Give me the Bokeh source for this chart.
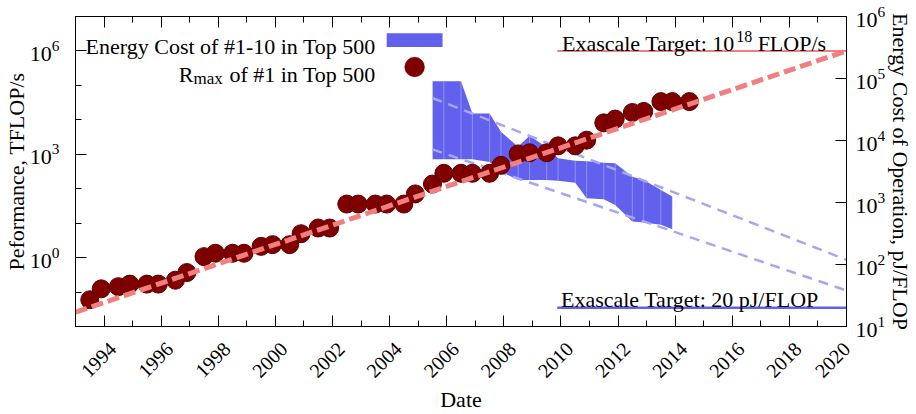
import math
from bokeh.plotting import figure
from bokeh.models import (Range1d, LogScale, LogAxis, LinearAxis, FixedTicker,
                          SingleIntervalTicker, LogTickFormatter, CustomJSTickFormatter,
                          Label, BoxAnnotation)
from bokeh.embed import file_html
from bokeh.resources import INLINE

# ---------------- data ----------------
top500_dates = [1993.5, 1993.9, 1994.5, 1994.9, 1995.5, 1995.9, 1996.5, 1996.9,
                1997.5, 1997.9, 1998.5, 1998.9, 1999.5, 1999.9, 2000.5, 2000.9,
                2001.5, 2001.9, 2002.5, 2002.9, 2003.5, 2003.9, 2004.5, 2004.9,
                2005.5, 2005.9, 2006.5, 2006.9, 2007.5, 2007.9, 2008.5, 2008.9,
                2009.5, 2009.9, 2010.5, 2010.9, 2011.5, 2011.9, 2012.5, 2012.9,
                2013.5, 2013.9, 2014.5]
top500_rmax_tflops = [0.0597, 0.124, 0.1434, 0.170, 0.170, 0.170, 0.2204, 0.3682,
                      1.068, 1.338, 1.338, 1.338, 2.121, 2.379, 2.379, 4.938,
                      7.226, 7.226, 35.86, 35.86, 35.86, 35.86, 35.86, 70.72,
                      136.8, 280.6, 280.6, 280.6, 280.6, 478.2, 1026, 1105,
                      1105, 1759, 1759, 2566, 8162, 10510, 16325, 17590,
                      33863, 33863, 33863]

band_dates = [2005.5, 2005.9, 2006.5, 2006.9, 2007.5, 2007.9, 2008.5, 2008.9, 2009.5,
              2009.9, 2010.5, 2010.9, 2011.5, 2011.9, 2012.5, 2012.9, 2013.5, 2013.9]
band_energy_high = [90200, 90200, 90200, 27300, 27300, 13800, 7900, 11900, 7800,
                    5150, 4720, 4610, 4380, 4290, 2610, 2300, 1590, 1245]
band_energy_low = [4970, 4970, 4970, 4970, 4500, 3140, 2310, 2310, 2310,
                   2250, 2090, 1170, 1130, 915, 493, 475, 437, 372]

perf_trend_dates = [1993.0, 2020.0]
perf_trend_tflops = [0.026, 1.0e6]
energy_trend_dates = [2005.5, 2020.0]
energy_trend_upper = [48500, 119]
energy_trend_lower = [7200, 38]

exascale_perf_tflops = 1.0e6
exascale_energy_pj = 20

year_ticks = [1994, 1996, 1998, 2000, 2002, 2004, 2006, 2008, 2010, 2012, 2014, 2016, 2018, 2020]
perf_major_ticks = [1e0, 1e3, 1e6]
perf_minor_ticks = [1e-2, 1e-1, 1e1, 1e2, 1e4, 1e5, 1e7]
energy_ticks = [1e1, 1e2, 1e3, 1e4, 1e5, 1e6]

# ---------------- layout helpers (page pixels -> data, for annotations) ----------------
FONT = "Liberation Serif"
X_START, X_END = 1993.0, 2020.0
PERF_MIN, PERF_MAX = 1e-2, 1e7
FRAME_L, FRAME_R, FRAME_T, FRAME_B = 74.0, 847.0, 16.0, 327.0
LABEL_SHIFT = 0.30   # years: rotated year labels sit a little right of their ticks


def px_x(px):
    return X_START + (px - FRAME_L) * (X_END - X_START) / (FRAME_R - FRAME_L)


def px_y(py):
    lo, hi = math.log10(PERF_MIN), math.log10(PERF_MAX)
    return 10 ** (lo + (FRAME_B - py) * (hi - lo) / (FRAME_B - FRAME_T))


p = figure(width=916, height=414,
           x_range=Range1d(X_START, X_END), y_range=Range1d(PERF_MIN, PERF_MAX),
           x_axis_type=None, y_axis_type="log",
           output_backend="svg", toolbar_location=None,
           min_border_left=74, min_border_right=69, min_border_top=16, min_border_bottom=87)
p.grid.grid_line_color = None
p.outline_line_color = "black"
p.outline_line_alpha = 1.0
p.outline_line_width = 1
p.background_fill_color = "white"
p.border_fill_color = "white"

p.extra_y_ranges = {"energy": Range1d(1e1, 1e6)}
p.extra_y_scales = {"energy": LogScale()}
p.extra_x_ranges = {"xlab": Range1d(X_START - LABEL_SHIFT, X_END - LABEL_SHIFT)}


def style_axis(ax, size="22px"):
    ax.axis_line_color = "black"
    ax.axis_line_width = 1
    ax.major_tick_line_color = "black"
    ax.minor_tick_line_color = "black"
    ax.major_tick_in = 11
    ax.major_tick_out = 0
    ax.minor_tick_in = 6
    ax.minor_tick_out = 0
    ax.major_label_text_font = FONT
    ax.major_label_text_font_size = size
    ax.major_label_text_color = "black"
    ax.axis_label_text_font = FONT
    ax.axis_label_text_font_size = "22px"
    ax.axis_label_text_font_style = "normal"
    ax.axis_label_text_color = "black"


ya = p.yaxis[0]
ya.ticker = FixedTicker(ticks=perf_major_ticks, minor_ticks=perf_minor_ticks)
ya.formatter = LogTickFormatter()
style_axis(ya)
ya.major_label_standoff = 16
ya.axis_label = "Peformance, TFLOP/s"
ya.axis_label_standoff = -2

ra = LogAxis(y_range_name="energy", ticker=FixedTicker(ticks=energy_ticks),
             formatter=LogTickFormatter())
style_axis(ra)
ra.minor_tick_line_color = None
ra.major_label_standoff = 9
ra.axis_label = "Energy Cost of Operation, pJ/FLOP"
ra.axis_label_standoff = 0
p.add_layout(ra, "right")

# tick-only axes (top mirror and bottom)
for loc in ("above", "below"):
    ax = LinearAxis(ticker=SingleIntervalTicker(interval=2, num_minor_ticks=2))
    style_axis(ax, size="1px")
    ax.major_label_text_color = None
    ax.major_label_standoff = 0
    p.add_layout(ax, loc)

# year labels + axis title, on a range shifted by LABEL_SHIFT
label_ticks = [min(t, X_END - LABEL_SHIFT) for t in year_ticks]
xa = LinearAxis(x_range_name="xlab", ticker=FixedTicker(ticks=label_ticks),
                formatter=CustomJSTickFormatter(code="return Math.round(tick).toFixed(0);"))
style_axis(xa, size="20px")
xa.axis_line_color = None
xa.major_tick_line_color = None
xa.minor_tick_line_color = None
xa.major_label_orientation = math.pi / 4
xa.major_label_standoff = 19
xa.axis_label = "Date"
xa.axis_label_standoff = 0
p.add_layout(xa, "below")

# ---------------- glyphs ----------------
BLUE = "#6161ee"
p.varea(x=band_dates, y1=band_energy_low, y2=band_energy_high, y_range_name="energy",
        fill_color=BLUE, fill_alpha=1.0)
p.segment(x0=band_dates, y0=band_energy_low, x1=band_dates, y1=band_energy_high,
          y_range_name="energy", line_color="white", line_alpha=0.3, line_width=1)
for fit in (energy_trend_upper, energy_trend_lower):
    p.line(energy_trend_dates, fit, y_range_name="energy", line_color="#a6a6f4",
           line_width=2.5, line_dash="10 7")

p.scatter(top500_dates, top500_rmax_tflops, size=18, fill_color="#800000",
          line_color="#5a0000", line_width=1)
p.line(perf_trend_dates, perf_trend_tflops, line_color="#f08080", line_width=5,
       line_dash="12 5")

target_x = [px_x(557), X_END]
p.line(target_x, [exascale_perf_tflops, exascale_perf_tflops], line_color="#f08080", line_width=2)
p.line(target_x, [exascale_energy_pj, exascale_energy_pj], y_range_name="energy",
       line_color=BLUE, line_width=2.5)


# ---------------- texts inside the frame ----------------
def txt(text, px, py, size=22, align="left", baseline="alphabetic", angle=0.0):
    p.add_layout(Label(x=px_x(px), y=px_y(py), text=text, text_font=FONT,
                       text_font_size=f"{size}px", text_align=align,
                       text_baseline=baseline, angle=angle, text_color="black"))


# exascale target labels
txt("Exascale Target: 10", 561.7, 43.3)
txt("18", 736.4, 36.0, size=16)
txt("FLOP/s", 757.9, 43.3)
txt("Exascale Target: 20 pJ/FLOP", 560.7, 300.0)

# legend
txt("Energy Cost of #1-10 in Top 500", 375, 46.5, align="right")
p.add_layout(BoxAnnotation(left=px_x(386), right=px_x(442), top=px_y(32.7), bottom=px_y(46.7),
                           fill_color=BLUE, fill_alpha=1.0, line_color=None))
txt("of #1 in Top 500", 375, 74.0, align="right")
txt("max", 221.6, 78.5, size=17, align="right")
txt("R", 192.3, 74.0, align="right")
p.add_layout(BoxAnnotation(left=px_x(404), right=px_x(424), top=px_y(56.7), bottom=px_y(76.7),
                           fill_color="#800000", fill_alpha=1.0, line_color="#5a0000",
                           border_radius=10))

open("out.html", "w").write(file_html(p, INLINE))
